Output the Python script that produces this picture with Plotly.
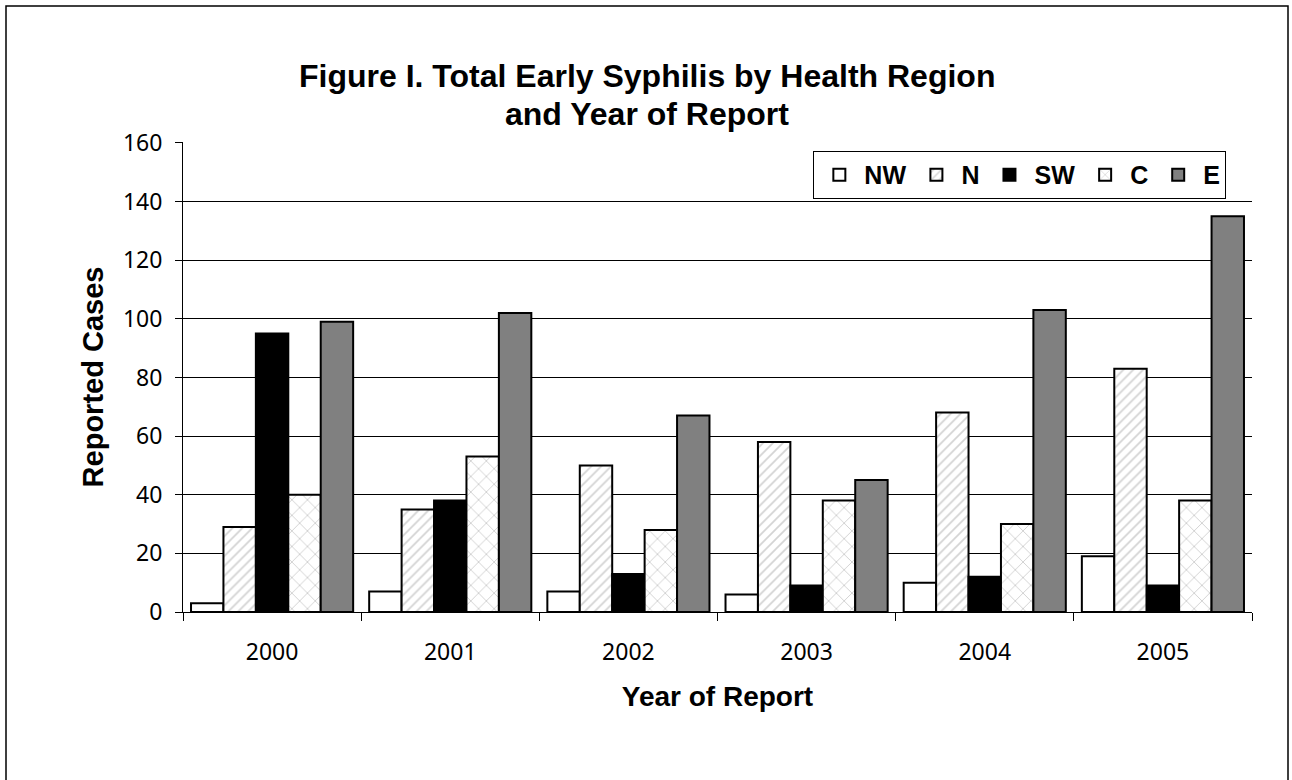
import plotly.graph_objects as go

years = ['2000', '2001', '2002', '2003', '2004', '2005']
nw = [3, 7, 7, 6, 10, 19]
n = [29, 35, 50, 58, 68, 83]
sw = [95, 38, 13, 9, 12, 9]
c = [40, 53, 28, 38, 30, 38]
e = [99, 102, 67, 45, 103, 135]

title_lines = ['Figure I. Total Early Syphilis by Health Region', 'and Year of Report']

series = [
    ('NW', nw, dict(color='white')),
    ('N', n, dict(color='white', pattern=dict(shape='/', fgcolor='#a8a8a8', bgcolor='white', size=7, solidity=0.25))),
    ('SW', sw, dict(color='black')),
    ('C', c, dict(color='white', pattern=dict(shape='x', fgcolor='#9a9a9a', bgcolor='white', size=11, solidity=0.15))),
    ('E', e, dict(color='#808080')),
]

ARIAL = 'Liberation Sans, Arial, sans-serif'
TAHOMA = 'Noto Sans, Tahoma, sans-serif'

fig = go.Figure()
for name, vals, mk in series:
    mk['line'] = dict(color='black', width=2)
    fig.add_trace(go.Bar(x=years, y=vals, name=name, marker=mk))

# plot area in pixels: left 183, right 1252, top 142, bottom 612
pw, ph = 1069, 470

fig.update_layout(
    width=1292, height=780,
    margin=dict(l=183, r=40, t=142, b=168),
    paper_bgcolor='white', plot_bgcolor='white',
    barmode='group', bargap=0.09, bargroupgap=0,
    font=dict(family=TAHOMA, color='black', size=23),
    legend=dict(
        orientation='h', x=0.976, xanchor='right', y=0.981, yanchor='top',
        bordercolor='black', borderwidth=1, bgcolor='white',
        font=dict(family=ARIAL, size=25, weight='bold'),
        itemwidth=40,
    ),
    xaxis=dict(
        title=dict(text='<b>Year of Report</b>', standoff=20,
                   font=dict(family=ARIAL, size=28)),
        showline=True, linecolor='black', linewidth=1,
        ticks='outside', tickson='boundaries', ticklen=8, tickcolor='black',
        ticklabelstandoff=19,
        showgrid=False,
    ),
    yaxis=dict(
        title=dict(text='<b>Reported Cases</b>', standoff=10,
                   font=dict(family=ARIAL, size=29)),
        range=[0, 160.3], dtick=20,
        showline=True, linecolor='black', linewidth=1,
        ticks='outside', ticklen=7, tickcolor='black',
        ticklabelstandoff=8,
        showgrid=True, gridcolor='black', gridwidth=1,
        zeroline=False,
    ),
)

# two-line title placed as annotations
for txt, ypix in zip(title_lines, [76, 114]):
    fig.add_annotation(text='<b>' + txt + '</b>', xref='paper', yref='paper',
                       x=(647 - 183) / pw, y=(612 - ypix) / ph,
                       xanchor='center', yanchor='middle', showarrow=False,
                       font=dict(family=ARIAL, size=32, color='black'))

# outer frame around the whole chart
fig.add_shape(type='rect', xref='paper', yref='paper',
              x0=(6 - 183) / pw, x1=(1288 - 183) / pw,
              y0=(612 - 800) / ph, y1=(612 - 6) / ph,
              line=dict(color='black', width=1.5), layer='below')

fig.write_html('out.html', config={'displayModeBar': False},
               post_script="document.body.style.margin='0px';")
